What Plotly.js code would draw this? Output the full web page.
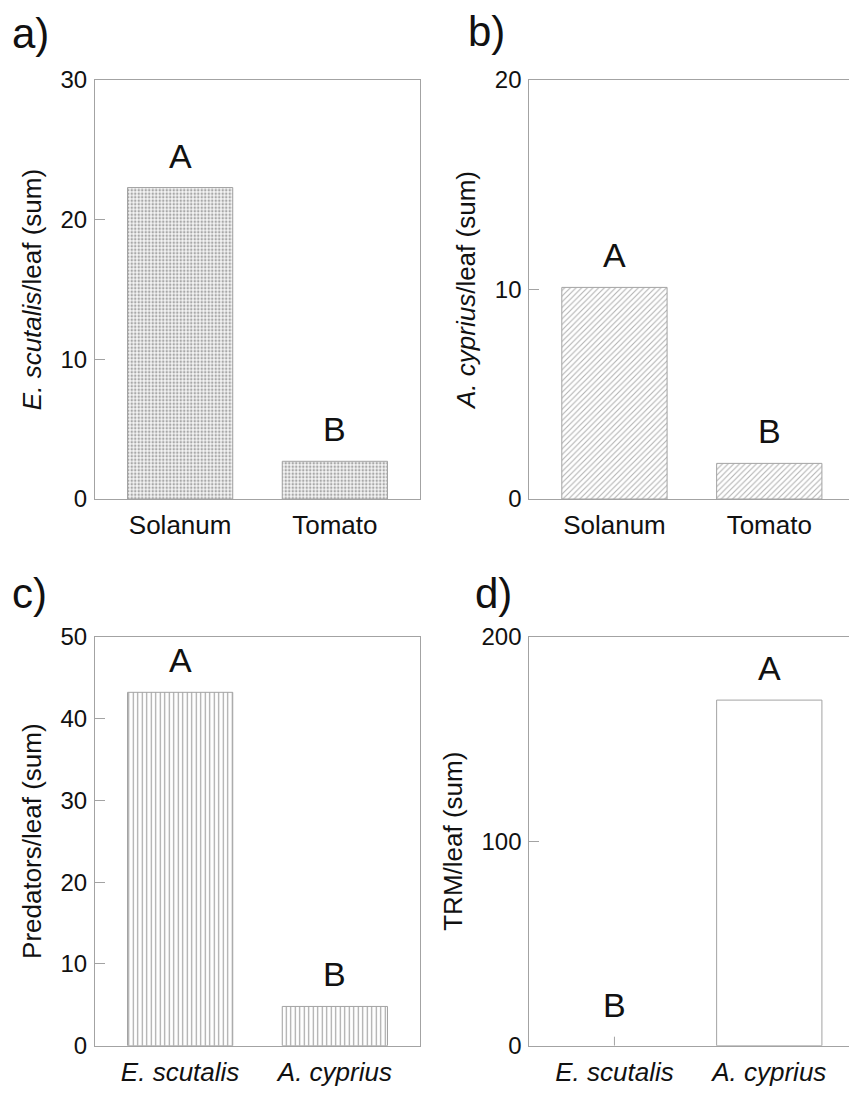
<!DOCTYPE html>
<html>
<head>
<meta charset="utf-8">
<script src="https://cdn.plot.ly/plotly-3.0.1.min.js"></script>
<style>html,body{margin:0;padding:0;background:#fff;}</style>
</head>
<body>
<div id="fig" style="width:849px;height:1095px;"></div>
<script>
// Sums per leaf for each host plant / predator species
const hostPlants = ['Solanum', 'Tomato'];
const predatorSpecies = ['<i>E. scutalis</i>', '<i>A. cyprius</i>'];

const eScutalisPerLeaf = [22.3, 2.7];   // panel a
const aCypriusPerLeaf  = [10.1, 1.7];   // panel b
const predatorsPerLeaf = [43.2, 4.8];   // panel c
const trmPerLeaf       = [0, 169];      // panel d
const trmErr           = [4.4, 0];

const lettersA = ['A', 'B'];
const lettersB = ['A', 'B'];
const lettersC = ['A', 'B'];
const lettersD = ['B', 'A'];

const FONT = 'Liberation Sans, Arial, Helvetica, sans-serif';
const GREY = '#a3a3a3';
const W = 849, H = 1095;

function px(x) { return x / W; }
function py(y) { return 1 - y / H; }

function barTrace(xa, ya, vals, pattern, err) {
  const t = {
    type: 'bar', x: [0, 1], y: vals, xaxis: xa, yaxis: ya,
    width: 0.68,
    marker: {
      color: '#ffffff',
      line: {color: GREY, width: vals.map(v => (v > 0 ? 1 : 0))},
      pattern: pattern
    },
    hoverinfo: 'skip', showlegend: false
  };
  if (err) {
    t.error_y = {type: 'data', array: err, symmetric: false, arrayminus: [0, 0],
                 visible: true, color: GREY, thickness: 1, width: 0};
  }
  return t;
}

const traces = [
  barTrace('x', 'y', eScutalisPerLeaf, {shape: '.', size: 3.5, solidity: 0.4, fgcolor: '#a8a8a8', bgcolor: '#f4f4f4'}),
  barTrace('x2', 'y2', aCypriusPerLeaf, {shape: '/', size: 4, solidity: 0.25, fgcolor: '#b0b0b0', bgcolor: '#ffffff'}),
  barTrace('x3', 'y3', predatorsPerLeaf, {shape: '|', size: 4.5, solidity: 0.25, fgcolor: '#a0a0a0', bgcolor: '#ffffff'}),
  barTrace('x4', 'y4', trmPerLeaf, {shape: ''}, trmErr)
];

function xAxis(domain, anchor, labels, rightEnd) {
  return {
    domain: domain, anchor: anchor, range: [-0.55, rightEnd],
    tickvals: [0, 1], ticktext: labels, ticks: '',
    showline: true, linecolor: GREY, linewidth: 1, mirror: true,
    showgrid: false, zeroline: false, fixedrange: true,
    tickfont: {family: FONT, size: 26, color: '#111'},
    ticklabelstandoff: 3
  };
}
function yAxis(domain, anchor, range, dtick, title, mirror) {
  return {
    domain: domain, anchor: anchor, range: range, dtick: dtick,
    ticks: 'inside', ticklen: 10, tickcolor: GREY, tickwidth: 1,
    showline: true, linecolor: GREY, linewidth: 1, mirror: mirror,
    showgrid: false, zeroline: false, fixedrange: true,
    tickfont: {family: FONT, size: 24, color: '#111'},
    ticklabelstandoff: 2,
    title: {text: title, font: {family: FONT, size: 26, color: '#111'}, standoff: 11}
  };
}

const topDom = [py(499), py(80)];
const botDom = [py(1045.7), py(636.7)];
const leftDom = [px(95), px(420)];
const rightDom = [px(529.3), 1];

const layout = {
  width: W, height: H,
  margin: {l: 0, r: 0, t: 0, b: 0},
  paper_bgcolor: '#ffffff', plot_bgcolor: '#ffffff',
  showlegend: false,
  xaxis:  xAxis(leftDom, 'y', hostPlants, 1.55),
  yaxis:  yAxis(topDom, 'x', [0, 30], 10, '<i>E. scutalis</i>/leaf (sum)', true),
  xaxis2: xAxis(rightDom, 'y2', hostPlants, 1.515),
  yaxis2: yAxis(topDom, 'x2', [0, 20], 10, '<i>A. cyprius</i>/leaf (sum)', false),
  xaxis3: xAxis(leftDom, 'y3', predatorSpecies, 1.55),
  yaxis3: yAxis(botDom, 'x3', [0, 50], 10, 'Predators/leaf (sum)', true),
  xaxis4: xAxis(rightDom, 'y4', predatorSpecies, 1.515),
  yaxis4: yAxis(botDom, 'x4', [0, 200], 100, 'TRM/leaf (sum)', false),
  annotations: []
};

// Panel tags
[['a)', 10, 8], ['b)', 466, 6], ['c)', 10, 568], ['d)', 473, 568]].forEach(p => {
  layout.annotations.push({
    text: p[0], xref: 'paper', yref: 'paper', x: px(p[1]), y: py(p[2]),
    xanchor: 'left', yanchor: 'top', showarrow: false,
    font: {family: FONT, size: 42, color: '#111'}
  });
});

// Significance letters above each bar
function letters(xa, ya, vals, labs, err) {
  vals.forEach((v, i) => {
    layout.annotations.push({
      text: labs[i], xref: xa, yref: ya, x: i, y: v + (err ? err[i] : 0),
      xanchor: 'center', yanchor: 'bottom', yshift: 11, showarrow: false,
      font: {family: FONT, size: 34, color: '#111'}
    });
  });
}
letters('x', 'y', eScutalisPerLeaf, lettersA);
letters('x2', 'y2', aCypriusPerLeaf, lettersB);
letters('x3', 'y3', predatorsPerLeaf, lettersC);
letters('x4', 'y4', trmPerLeaf, lettersD, trmErr);

Plotly.newPlot('fig', traces, layout, {staticPlot: true, displayModeBar: false});
</script>
</body>
</html>
